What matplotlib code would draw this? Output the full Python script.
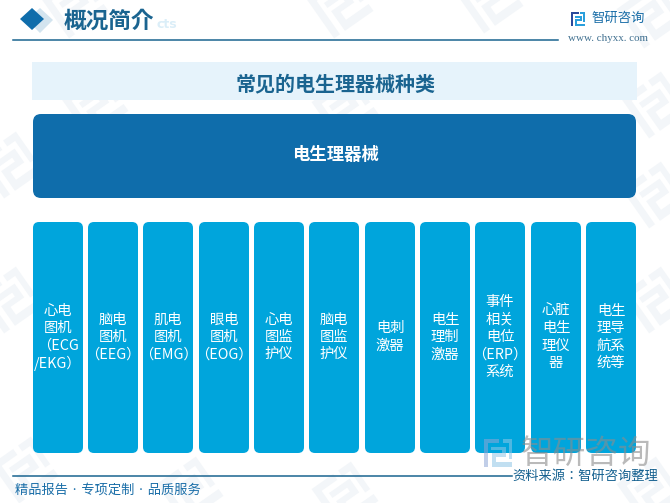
import matplotlib
matplotlib.use("Agg")
import matplotlib.pyplot as plt
from matplotlib.patches import FancyBboxPatch, Rectangle, Polygon
from matplotlib.transforms import Affine2D

CJK = "Noto Sans CJK JP"
plt.rcParams["font.family"] = [CJK, "DejaVu Sans"]

header_title = "概况简介"
panel_title = "常见的电生理器械种类"
root_label = "电生理器械"
brand = "智研咨询"
site = "www. chyxx. com"
footer_left = "精品报告 · 专项定制 · 品质服务"
footer_right = "资料来源：智研咨询整理"
categories = [
    ["心电", "图机", "（ECG", "/EKG）"],
    ["脑电", "图机", "（EEG）"],
    ["肌电", "图机", "（EMG）"],
    ["眼电", "图机", "（EOG）"],
    ["心电", "图监", "护仪"],
    ["脑电", "图监", "护仪"],
    ["电刺", "激器"],
    ["电生", "理制", "激器"],
    ["事件", "相关", "电位", "（ERP）", "系统"],
    ["心脏", "电生", "理仪", "器"],
    ["电生", "理导", "航系", "统等"],
]
card_lefts = [33, 88, 143, 199, 254, 309, 365, 420, 475, 531, 586]
watermarks = [(75, 5), (650, 15), (340, 5), (95, 105), (10, 165),
              (345, 108), (655, 105), (10, 300), (655, 300), (25, 470),
              (190, 490), (345, 495), (650, 490), (490, 0), (655, 195)]

DARK = "#0f6dab"
CARD = "#00a5dc"
TEXT = "#1a6490"

fig = plt.figure(figsize=(6.7, 5.03), dpi=100)
ax = fig.add_axes([0, 0, 1, 1])
ax.set_xlim(0, 670)
ax.set_ylim(503, 0)
ax.axis("off")


def logo(cx, cy, s, colors, alpha=1.0, rot=0, z=1):
    tr = Affine2D().scale(s).rotate_deg(rot).translate(cx, cy) + ax.transData
    shapes = [
        [(-1, -1), (0.1, -1), (0.1, -0.7), (-0.7, -0.7), (-0.7, 1), (-1, 1)],
        [(-0.5, -0.45), (0.55, -0.45), (0.55, 0.25), (-0.15, 0.25), (-0.15, 0.65),
         (1, 0.65), (1, 1), (-0.45, 1), (-0.45, 0), (0.25, 0), (0.25, -0.2), (-0.5, -0.2)],
        [(0.35, -1), (1, -1), (1, 0.4), (0.75, 0.4), (0.75, -0.7), (0.35, -0.7)],
    ]
    for pts, color in zip(shapes, colors):
        ax.add_patch(Polygon(pts, closed=True, fc=color, ec="none", alpha=alpha,
                             transform=tr, zorder=z))


for wx, wy in watermarks:
    logo(wx, wy, 24, ["#f3f6f9"] * 3, rot=-35, z=1)

# header
ax.add_patch(Polygon([(40, 8), (53, 20), (40, 33), (27, 20)], closed=True,
                     fc="#d3e4ef", ec="none", zorder=2))
ax.add_patch(Polygon([(32, 8), (44, 19), (32, 30), (20, 19)], closed=True,
                     fc=DARK, ec="none", zorder=3))
ax.text(156.5, 24, "cts", fontsize=9, fontweight="bold", color="#dbeef8",
        family="DejaVu Sans", ha="left", va="center", zorder=2)
ax.text(64, 21.5, header_title, fontsize=16.3, fontweight="bold", color=TEXT,
        ha="left", va="center", zorder=4)
ax.plot([13, 558], [39.5, 39.5], color=TEXT, lw=1.1, zorder=3)

logo(578, 19, 7, ["#2b4a9b", "#2a9fdc", "#2a9fdc"], z=4)
ax.text(592, 18, brand, fontsize=9.6, color="#1a6ea8", ha="left", va="center", zorder=4)
ax.text(568, 38.5, site, fontsize=7.9, family="Liberation Serif", color="#3f6f8f",
        ha="left", va="center", zorder=4)

# title band
ax.add_patch(Rectangle((32, 62), 605, 38, fc="#e6f3fb", ec="none", zorder=2))
ax.text(335.5, 83.5, panel_title, fontsize=14.4, fontweight="bold", color=TEXT,
        ha="center", va="center", zorder=3)

# root box
ax.add_patch(FancyBboxPatch((41, 122), 587, 68, boxstyle="round,pad=8,rounding_size=8",
                            fc=DARK, ec="none", zorder=2))
ax.text(335, 155, root_label, fontsize=12.5, fontweight="bold", color="white",
        ha="center", va="center", zorder=3)

# category cards
PITCH = 17.4
for left, lines in zip(card_lefts, categories):
    ax.add_patch(FancyBboxPatch((left + 6, 228), 38, 219,
                                boxstyle="round,pad=6,rounding_size=6",
                                fc=CARD, ec="none", zorder=2))
    for i, line in enumerate(lines):
        y = 337 + (i - (len(lines) - 1) / 2) * PITCH
        ax.text(left + 25, y, line, fontsize=10.3, color="white", ha="center",
                va="center", zorder=3)

# footer
logo(498, 453, 14, ["#8fa6d6", "#8fc6e6", "#8fc6e6"], alpha=0.55, z=5)
ax.text(586, 454, brand, fontsize=23.5, color="#8c8c8c", alpha=0.6, ha="center",
        va="center", zorder=5)
ax.plot([13, 512], [475.5, 475.5], color=TEXT, lw=1.1, zorder=3)
ax.text(15, 490.5, footer_left, fontsize=9.5, color="#1a6ea8", ha="left", va="center", zorder=4)
ax.text(658, 476.5, footer_right, fontsize=9.5, color="#14608f", ha="right", va="center", zorder=6)

fig.savefig("out.png", dpi=100)
